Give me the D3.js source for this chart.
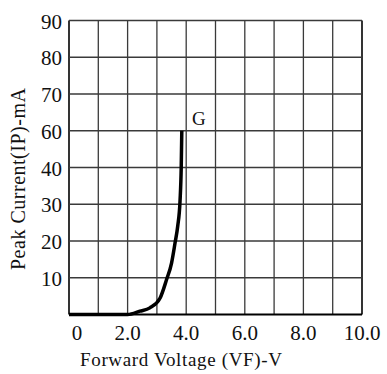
<!DOCTYPE html>
<html>
<head>
<meta charset="utf-8">
<script src="https://cdn.jsdelivr.net/npm/d3@7"></script>
<style>
  html, body { margin: 0; padding: 0; background: #fff; }
  svg { display: block; }
</style>
</head>
<body>
<svg id="chart" width="387" height="374"></svg>
<script>
// Forward voltage (V) and peak current (mA) along the G curve
const forwardVoltage = [0, 2.0, 2.42, 2.76, 3.11, 3.33, 3.50, 3.62, 3.71, 3.79, 3.83, 3.85];
const peakCurrent    = [0, 0,   0.9,  1.8,  4.5,  9.5,  14,   19.5, 24,   31,   40,   60];

// Axis ticks as printed on the sheet (the current axis skips 50)
const xTickValues = [0, 2, 4, 6, 8, 10];
const xTickLabels = ["0", "2.0", "4.0", "6.0", "8.0", "10.0"];
const xGridValues = [0, 1, 2, 3, 4, 5, 6, 7, 8, 9, 10];
const yTickValues = [0, 10, 20, 30, 40, 60, 70, 80, 90];
const yTickLabels = ["", "10", "20", "30", "40", "60", "70", "80", "90"];

const seriesName = "G";

const svg = d3.select("#chart");
const margin = { left: 69, top: 20.5, right: 25, bottom: 59.5 };
const W = 387 - margin.left - margin.right;
const H = 374 - margin.top - margin.bottom;

const g = svg.append("g").attr("transform", `translate(${margin.left},${margin.top})`);

const x = d3.scaleLinear().domain([0, 10]).range([0, W]);
// Piecewise scale: each printed tick sits on its own evenly spaced gridline
const y = d3.scaleLinear()
  .domain(yTickValues)
  .range(yTickValues.map((d, i) => H - i * H / (yTickValues.length - 1)));

// Grid
const gridColor = "#3a3a3a";
g.append("g").selectAll("line.v").data(xGridValues).join("line")
  .attr("x1", d => x(d)).attr("x2", d => x(d))
  .attr("y1", 0).attr("y2", H)
  .attr("stroke", (d, i) => (i === 0 || i === xGridValues.length - 1) ? "#000" : gridColor)
  .attr("stroke-width", (d, i) => (i === 0 || i === xGridValues.length - 1) ? 1.6 : 1.3);

g.append("g").selectAll("line.h").data(yTickValues).join("line")
  .attr("x1", 0).attr("x2", W)
  .attr("y1", d => y(d)).attr("y2", d => y(d))
  .attr("stroke", (d, i) => i === 0 ? "#000" : gridColor)
  .attr("stroke-width", (d, i) => i === 0 ? 1.8 : 1.3);

// Y tick labels
const tickFont = "'Liberation Serif', 'Times New Roman', serif";
g.append("g").selectAll("text").data(yTickValues).join("text")
  .attr("x", -7)
  .attr("y", d => y(d) + 8)
  .attr("text-anchor", "end")
  .attr("font-family", tickFont)
  .attr("font-size", 21)
  .attr("fill", "#111")
  .text((d, i) => yTickLabels[i]);

// X tick labels
g.append("g").selectAll("text").data(xTickValues).join("text")
  .attr("x", d => x(d) + (d === 0 ? 8 : 0))
  .attr("y", H + 25)
  .attr("text-anchor", "middle")
  .attr("font-family", tickFont)
  .attr("font-size", 21)
  .attr("fill", "#111")
  .text((d, i) => xTickLabels[i]);

// Axis titles, set in a serif face with wide, even spacing
g.append("text")
  .attr("x", 11).attr("y", H + 51)
  .attr("font-family", tickFont)
  .attr("font-size", 19)
  .attr("fill", "#111")
  .attr("textLength", 202)
  .attr("lengthAdjust", "spacing")
  .text("Forward Voltage (VF)-V");

svg.append("text")
  .attr("transform", "translate(25,270) rotate(-90)")
  .attr("font-family", tickFont)
  .attr("font-size", 20)
  .attr("fill", "#111")
  .attr("textLength", 182)
  .attr("lengthAdjust", "spacing")
  .text("Peak Current(IP)-mA");

// Curve
const pts = forwardVoltage.map((v, i) => [v, peakCurrent[i]]);
const line = d3.line()
  .x(d => x(d[0]))
  .y(d => y(d[1]))
  .curve(d3.curveMonotoneX);

g.append("path")
  .attr("d", line(pts))
  .attr("fill", "none")
  .attr("stroke", "#000")
  .attr("stroke-width", 3.5)
  .attr("stroke-linejoin", "round");

// Series label
const last = pts[pts.length - 1];
g.append("text")
  .attr("x", x(last[0]) + 17)
  .attr("y", y(last[1]) - 6)
  .attr("text-anchor", "middle")
  .attr("font-family", tickFont)
  .attr("font-size", 19)
  .attr("fill", "#111")
  .text(seriesName);
</script>
</body>
</html>
